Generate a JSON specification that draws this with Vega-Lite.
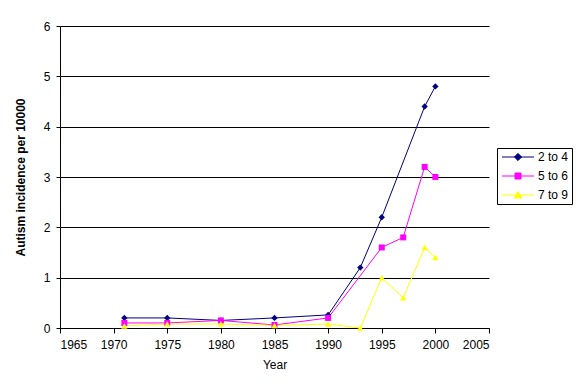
{
  "$schema": "https://vega.github.io/schema/vega-lite/v6.json",
  "autosize": "none",
  "width": 429,
  "height": 302,
  "padding": {"left": 60, "top": 26, "right": 87, "bottom": 64},
  "background": "white",
  "data": {
    "values": [
      {"series": "2 to 4", "year": 1971, "value": 0.2},
      {"series": "2 to 4", "year": 1975, "value": 0.2},
      {"series": "2 to 4", "year": 1980, "value": 0.15},
      {"series": "2 to 4", "year": 1985, "value": 0.2},
      {"series": "2 to 4", "year": 1990, "value": 0.26},
      {"series": "2 to 4", "year": 1993, "value": 1.2},
      {"series": "2 to 4", "year": 1995, "value": 2.2},
      {"series": "2 to 4", "year": 1999, "value": 4.4},
      {"series": "2 to 4", "year": 2000, "value": 4.8},
      {"series": "5 to 6", "year": 1971, "value": 0.1},
      {"series": "5 to 6", "year": 1975, "value": 0.1},
      {"series": "5 to 6", "year": 1980, "value": 0.15},
      {"series": "5 to 6", "year": 1985, "value": 0.06},
      {"series": "5 to 6", "year": 1990, "value": 0.2},
      {"series": "5 to 6", "year": 1995, "value": 1.6},
      {"series": "5 to 6", "year": 1997, "value": 1.8},
      {"series": "5 to 6", "year": 1999, "value": 3.2},
      {"series": "5 to 6", "year": 2000, "value": 3.0},
      {"series": "7 to 9", "year": 1971, "value": 0.04},
      {"series": "7 to 9", "year": 1975, "value": 0.08},
      {"series": "7 to 9", "year": 1980, "value": 0.08},
      {"series": "7 to 9", "year": 1985, "value": 0.05},
      {"series": "7 to 9", "year": 1990, "value": 0.08},
      {"series": "7 to 9", "year": 1993, "value": 0.0},
      {"series": "7 to 9", "year": 1995, "value": 1.0},
      {"series": "7 to 9", "year": 1997, "value": 0.6},
      {"series": "7 to 9", "year": 1999, "value": 1.6},
      {"series": "7 to 9", "year": 2000, "value": 1.4}
    ]
  },
  "encoding": {
    "x": {
      "field": "year", "type": "quantitative",
      "scale": {"domain": [1965, 2005], "nice": false, "zero": false},
      "axis": {
        "title": "Year", "values": [1965, 1970, 1975, 1980, 1985, 1990, 1995, 2000, 2005],
        "format": "d", "grid": false, "tickSize": 5, "labelPadding": 6,
        "titlePadding": 9, "titleFontWeight": "normal"
      }
    },
    "y": {
      "field": "value", "type": "quantitative",
      "scale": {"domain": [0, 6], "nice": false},
      "axis": {
        "title": "Autism incidence per 10000", "values": [0, 1, 2, 3, 4, 5, 6],
        "grid": true, "tickSize": 4, "labelPadding": 6, "titlePadding": 16,
        "titleFontWeight": "bold"
      }
    },
    "color": {
      "field": "series", "type": "nominal",
      "scale": {"domain": ["2 to 4", "5 to 6", "7 to 9"], "range": ["#000080", "#FF00FF", "#FFFF00"]},
      "legend": {
        "title": null,
        "orient": "none",
        "legendX": 437,
        "legendY": 122,
        "strokeColor": "black",
        "padding": 3,
        "rowPadding": 7,
        "labelOffset": 26,
        "symbolSize": 64,
        "symbolStrokeWidth": 1,
        "labelFontSize": 12,
        "labelFont": "Liberation Sans",
        "labelColor": "black",
        "encode": {
          "symbols": {
            "update": {
              "shape": {"signal": "datum.value === '2 to 4' ? 'M-1,0H7M3,-0.9L3.9,0L3,0.9L2.1,0Z' : datum.value === '5 to 6' ? 'M-1,0H7M2.25,-0.75H3.75V0.75H2.25Z' : 'M-1,0H7M3,-0.85L3.95,0.75L2.05,0.75Z'"},
              "fill": {"signal": "datum.value === '2 to 4' ? '#000080' : datum.value === '5 to 6' ? '#FF00FF' : '#FFFF00'"},
              "stroke": {"signal": "datum.value === '2 to 4' ? '#000080' : datum.value === '5 to 6' ? '#FF00FF' : '#FFFF00'"},
              "size": {"value": 64},
              "opacity": {"value": 1},
              "fillOpacity": {"value": 1},
              "strokeWidth": {"value": 1}
            }
          }
        }
      }
    }
  },
  "layer": [
    {"mark": {"type": "line", "strokeWidth": 1}},
    {
      "transform": [{"filter": "datum.series === '2 to 4'"}],
      "mark": {"type": "point", "filled": true, "size": 40, "opacity": 1, "shape": "diamond"}
    },
    {
      "transform": [{"filter": "datum.series === '5 to 6'"}],
      "mark": {"type": "point", "filled": true, "size": 36, "opacity": 1, "shape": "square"}
    },
    {
      "transform": [{"filter": "datum.series === '7 to 9'"}],
      "mark": {"type": "point", "filled": true, "size": 40, "opacity": 1, "shape": "triangle-up"}
    }
  ],
  "config": {
    "font": "Liberation Sans",
    "view": {"stroke": null},
    "axis": {
      "domainColor": "black", "tickColor": "black", "gridColor": "black",
      "gridOpacity": 1, "labelColor": "black", "titleColor": "black",
      "labelFontSize": 12, "titleFontSize": 12, "labelFont": "Liberation Sans",
      "titleFont": "Liberation Sans", "domainWidth": 1, "gridWidth": 1
    }
  }
}
